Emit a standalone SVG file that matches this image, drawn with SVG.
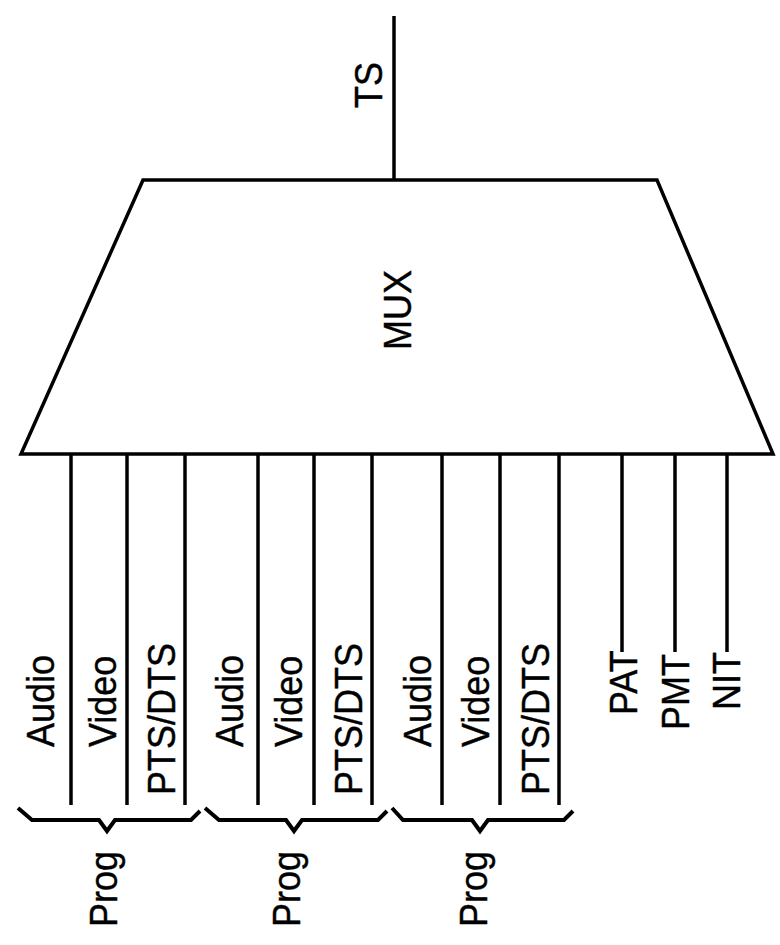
<svg xmlns="http://www.w3.org/2000/svg" width="780" height="945" viewBox="0 0 780 945">
<style>
.ln{stroke:#000;stroke-width:3.5;fill:none}
.br{stroke:#000;stroke-width:4;fill:none;stroke-linejoin:miter}
.t{font-family:"Liberation Sans",Arial,sans-serif;font-size:36px;fill:#000;stroke:#000;stroke-width:0.4}
</style>
<rect width="780" height="945" fill="#fff"/>
<g id="mux">
<polygon class="ln" points="143,180 657,180 773,454 21,454" fill="#fff"/>
<text class="t" text-anchor="middle" transform="translate(411,310) rotate(-90) scale(1,1.08)">MUX</text>
</g>
<g id="connectors">
<line class="ln" x1="394" y1="16" x2="394" y2="180"/>
<line class="ln" x1="71" y1="454" x2="71" y2="805"/>
<line class="ln" x1="127" y1="454" x2="127" y2="805"/>
<line class="ln" x1="185" y1="454" x2="185" y2="805"/>
<line class="ln" x1="258" y1="454" x2="258" y2="805"/>
<line class="ln" x1="314" y1="454" x2="314" y2="805"/>
<line class="ln" x1="372" y1="454" x2="372" y2="805"/>
<line class="ln" x1="442" y1="454" x2="442" y2="805"/>
<line class="ln" x1="500" y1="454" x2="500" y2="805"/>
<line class="ln" x1="559" y1="454" x2="559" y2="805"/>
<line class="ln" x1="622" y1="454" x2="622" y2="652"/>
<line class="ln" x1="675" y1="454" x2="675" y2="652"/>
<line class="ln" x1="727" y1="454" x2="727" y2="652"/>
</g>
<g id="ts">
<text class="t" transform="translate(382,108) rotate(-90) scale(1,1.08)">TS</text>
</g>
<g id="prog1">
<text class="t" transform="translate(54,747) rotate(-90) scale(1,1.08)">Audio</text>
<text class="t" transform="translate(116,747) rotate(-90) scale(1,1.08)">Video</text>
<text class="t" transform="translate(175,795) rotate(-90) scale(1,1.08)">PTS/DTS</text>
<path class="br" d="M18,808 L32,820 L99,820 L107,831 L115,820 L191,820 L200,811"/>
<text class="t" transform="translate(117,927) rotate(-90) scale(1,1.08)">Prog</text>
</g>
<g id="prog2">
<text class="t" transform="translate(243,747) rotate(-90) scale(1,1.08)">Audio</text>
<text class="t" transform="translate(302,747) rotate(-90) scale(1,1.08)">Video</text>
<text class="t" transform="translate(362,795) rotate(-90) scale(1,1.08)">PTS/DTS</text>
<path class="br" d="M205,808 L219,820 L286,820 L294,831 L302,820 L378,820 L387,811"/>
<text class="t" transform="translate(300,927) rotate(-90) scale(1,1.08)">Prog</text>
</g>
<g id="prog3">
<text class="t" transform="translate(431,747) rotate(-90) scale(1,1.08)">Audio</text>
<text class="t" transform="translate(489,747) rotate(-90) scale(1,1.08)">Video</text>
<text class="t" transform="translate(549,795) rotate(-90) scale(1,1.08)">PTS/DTS</text>
<path class="br" d="M392,808 L403,820 L472,820 L480,831 L488,820 L564,820 L573,811"/>
<text class="t" transform="translate(487,927) rotate(-90) scale(1,1.08)">Prog</text>
</g>
<g id="pat"><text class="t" transform="translate(637,715) rotate(-90) scale(1,1.08)">PAT</text></g>
<g id="pmt"><text class="t" transform="translate(689,730) rotate(-90) scale(1,1.08)">PMT</text></g>
<g id="nit"><text class="t" transform="translate(740,710) rotate(-90) scale(1,1.08)">NIT</text></g>
</svg>
